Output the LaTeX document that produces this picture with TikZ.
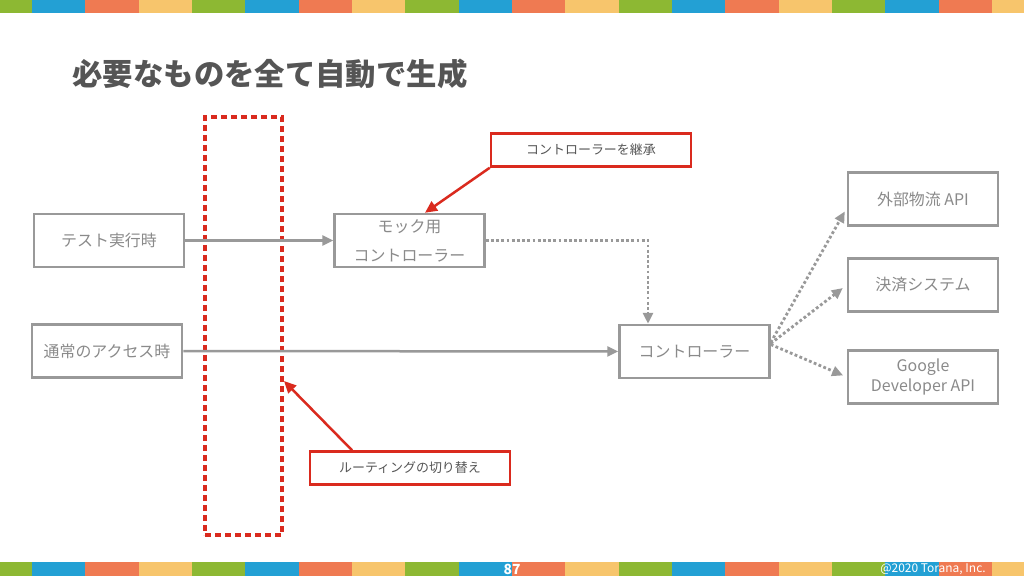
\documentclass[tikz,border=0pt]{standalone}
\usepackage{fontspec}
\setmainfont{Noto Sans CJK JP}
\usetikzlibrary{arrows.meta}
\definecolor{Leaf}{HTML}{8DB833}
\definecolor{Sky}{HTML}{23A0D4}
\definecolor{Coral}{HTML}{EF7A52}
\definecolor{Sand}{HTML}{F7C56C}
\definecolor{Ink}{HTML}{555555}
\definecolor{Muted}{HTML}{8A8A8A}
\definecolor{Rule}{HTML}{999999}
\definecolor{Alert}{HTML}{DA2A1E}

\begin{document}
\begin{tikzpicture}[x=1bp,y=-1bp,
    box/.style={draw=Rule,line width=2.5bp,minimum width=150bp,minimum height=53bp,
      inner sep=0pt,align=center,text=Muted,font=\fontsize{16}{29}\selectfont},
    note/.style={draw=Alert,line width=2.5bp,fill=white,minimum width=200bp,
      minimum height=33bp,inner sep=0pt,text=Ink,font=\fontsize{13}{14}\selectfont},
    zone/.style={draw=Alert,line width=3.2bp,dash pattern=on 6bp off 4bp,
      minimum width=77bp,minimum height=418bp,inner sep=0pt},
    flow/.style={draw=Rule,line width=2.5bp,-{Triangle[length=11bp,width=10bp]}},
    mockflow/.style={flow,line width=2.8bp,dash pattern=on 2.8bp off 2.4bp},
    hint/.style={draw=Alert,line width=2.5bp,-{Triangle[length=12bp,width=11bp]}}]
  \useasboundingbox (0,0) rectangle (1024,576);
  \fill[white] (0,0) rectangle (1024,576);
  % colour bands, top and bottom
  \begin{scope}
    \clip (0,0) rectangle (1024,576);
    \foreach \k in {0,...,4}{
      \foreach \col [count=\j from 0] in {Leaf,Sky,Coral,Sand}{
        \fill[\col] ({-21.33+(4*\k+\j)*53.33},0) rectangle +(53.33,13);
        \fill[\col] ({-21.33+(4*\k+\j)*53.33},562) rectangle +(53.33,14);
      }
    }
  \end{scope}
  \node[anchor=west,text=Ink,font=\bfseries\fontsize{30.5}{32}\selectfont] (title) at (69,74) {必要なものを全て自動で生成};

  \node[box] (test) at (109,240.5) {テスト実行時};
  \node[box] (normal) at (107,351) {通常のアクセス時};
  \node[box] (mock) at (409.5,240.5) {モック用\\コントローラー};
  \node[box] (ctrl) at (694.5,351.5) {コントローラー};
  \node[box] (logi) at (923,199) {外部物流 API};
  \node[box] (pay) at (923,285) {決済システム};
  \node[box,font=\fontsize{16}{20}\selectfont] (google) at (923,377) {Google\\Developer API};
  \node[zone] (switch) at (243.5,326) {};
  \node[note] (inherit) at (591,150) {コントローラーを継承};
  \node[note] (route) at (410,468) {ルーティングの切り替え};
  \coordinate (hit) at (284,381);

  \draw[flow] (test) -- (mock);
  \draw[flow] (normal) -- (ctrl);
  \draw[mockflow] (mock.east) -| ([xshift=-46.5bp]ctrl.north);
  \draw[mockflow,shorten >=4bp] ([yshift=9bp]ctrl.east) -- ([yshift=-9bp]logi.west);
  \draw[mockflow,shorten >=5bp] ([yshift=8bp]ctrl.east) -- (pay.west);
  \draw[mockflow,shorten >=4bp] ([yshift=7bp]ctrl.east) -- (google.west);
  \draw[hint] (inherit.south west) -- ([xshift=15.5bp]mock.north);
  \draw[hint] ([xshift=-58bp]route.north) -- (hit);

  \node[text=white,font=\bfseries\fontsize{14}{14}\selectfont] (page) at (512,569.5) {87};
  \node[text=white,font=\fontsize{12}{12}\selectfont] (copy) at (933,569.5) {@2020 Torana, Inc.};
\end{tikzpicture}
\end{document}
